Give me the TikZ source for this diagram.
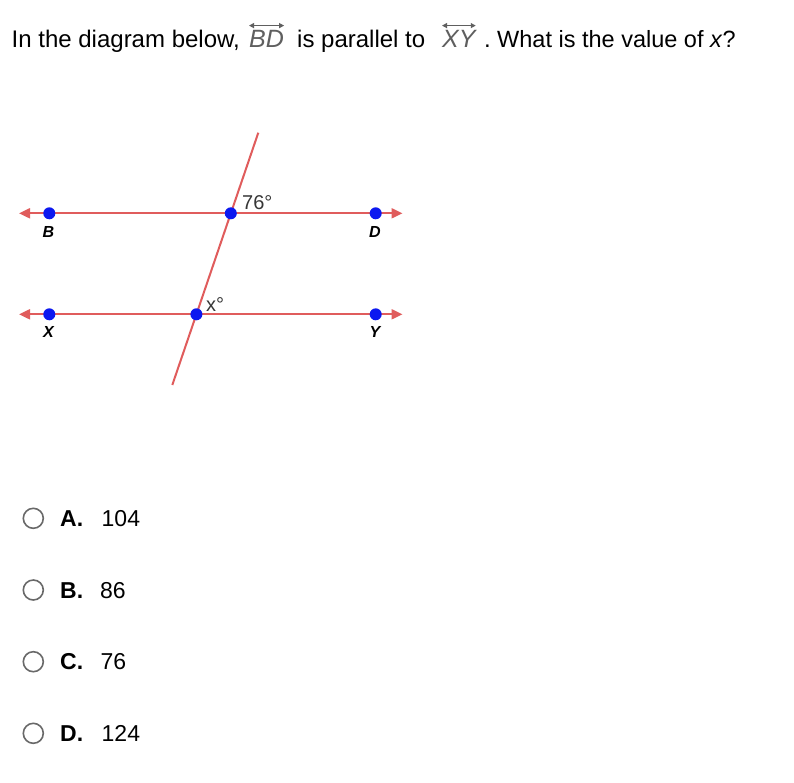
\documentclass[tikz,border=0pt]{standalone}
\usepackage{fontspec}
\setmainfont{Liberation Sans}
\usetikzlibrary{arrows.meta}
\definecolor{linered}{RGB}{224,92,92}
\definecolor{dotblue}{RGB}{12,24,240}
\definecolor{labgray}{RGB}{55,55,55}
\definecolor{titlegray}{RGB}{95,95,95}
\definecolor{radiogray}{RGB}{105,105,105}
\begin{document}
\begin{tikzpicture}[x=1pt,y=-1pt,
  redline/.style={draw=linered,line width=2pt},
  dblarrow/.style={redline,{Triangle[length=11pt,width=10pt]}-{Triangle[length=11pt,width=10pt]}},
  dot/.style={circle,fill=dotblue,inner sep=0pt,minimum size=12pt},
  ptlabel/.style={font=\fontsize{16}{16}\selectfont\bfseries\itshape,inner sep=0pt},
  anglab/.style={font=\fontsize{20}{20}\selectfont,text=labgray,inner sep=0pt,anchor=base west},
  txt/.style={font=\fontsize{24}{28}\selectfont,inner sep=0pt,anchor=base west},
  txtb/.style={font=\fontsize{23.5}{28}\selectfont,inner sep=0pt,anchor=base west},
  anstxt/.style={font=\fontsize{23}{27}\selectfont,inner sep=0pt,anchor=base west},
  boldtxt/.style={anstxt,font=\fontsize{23}{27}\selectfont\bfseries},
  segtxt/.style={font=\fontsize{25}{28}\selectfont\itshape,text=titlegray,inner sep=0pt,anchor=base west},
  segarrow/.style={draw=titlegray,line width=1.2pt,{Triangle[length=5pt,width=5pt]}-{Triangle[length=5pt,width=5pt]}},
  radio/.style={circle,draw=radiogray,line width=1.6pt,minimum size=20pt,inner sep=0pt}]
\useasboundingbox[fill=white] (0,0) rectangle (794,782);

% title
\node[txt] (t1) at (11.5,47) {In the diagram below,};
\node[segtxt] (bd) at (249,47) {BD};
\draw[segarrow] ([yshift=4pt]bd.north west) -- ([yshift=4pt]bd.north east);
\node[txt] (t2) at (297,47) {is parallel to};
\node[segtxt] (xy) at (442,47) {XY};
\draw[segarrow] ([yshift=4pt]xy.north west) -- ([yshift=4pt]xy.north east);
\node[txt] (t3) at (484,47) {.};
\node[txtb] (t4) at (497,47) {What is the value of \textit{x}?};

% lines
\coordinate (L1) at (19,213.3);
\coordinate (R1) at (402.5,213.3);
\coordinate (L2) at (19,314.3);
\coordinate (R2) at (402.5,314.3);
\coordinate (T1) at (258.3,132.7);
\coordinate (T2) at (172.3,385);
\draw[dblarrow] (L1) -- (R1);
\draw[dblarrow] (L2) -- (R2);
\draw[redline] (T1) -- (T2);

\node[dot] (B) at (49.3,213.3) {};
\node[dot] (D) at (375.7,213.3) {};
\node[dot] (P) at (230.8,213.3) {};
\node[dot] (X) at (49.3,314.3) {};
\node[dot] (Y) at (375.7,314.3) {};
\node[dot] (Q) at (196.4,314.3) {};

\node[ptlabel] (lB) at (48.5,232) {B};
\node[ptlabel] (lD) at (375,232) {D};
\node[ptlabel] (lX) at (48.5,332) {X};
\node[ptlabel] (lY) at (375,332) {Y};

\node[anglab] (a76) at (242,209.5) {76°};
\node[anglab] (ax) at (206,311) {x°};

% answers
\node[radio] (ra) at (33.3,518.3) {};
\node[boldtxt] (la) at (60,526.5) {A.};
\node[anstxt] (va) at (101.5,526.5) {104};
\node[radio] (rb) at (33.3,590) {};
\node[boldtxt] (lb) at (60,598.2) {B.};
\node[anstxt] (vb) at (100,598.2) {86};
\node[radio] (rc) at (33.3,661.7) {};
\node[boldtxt] (lc) at (60,669.9) {C.};
\node[anstxt] (vc) at (100.5,669.9) {76};
\node[radio] (rd) at (33.3,733.3) {};
\node[boldtxt] (ld) at (60,741.5) {D.};
\node[anstxt] (vd) at (101.5,741.5) {124};
\end{tikzpicture}
\end{document}
